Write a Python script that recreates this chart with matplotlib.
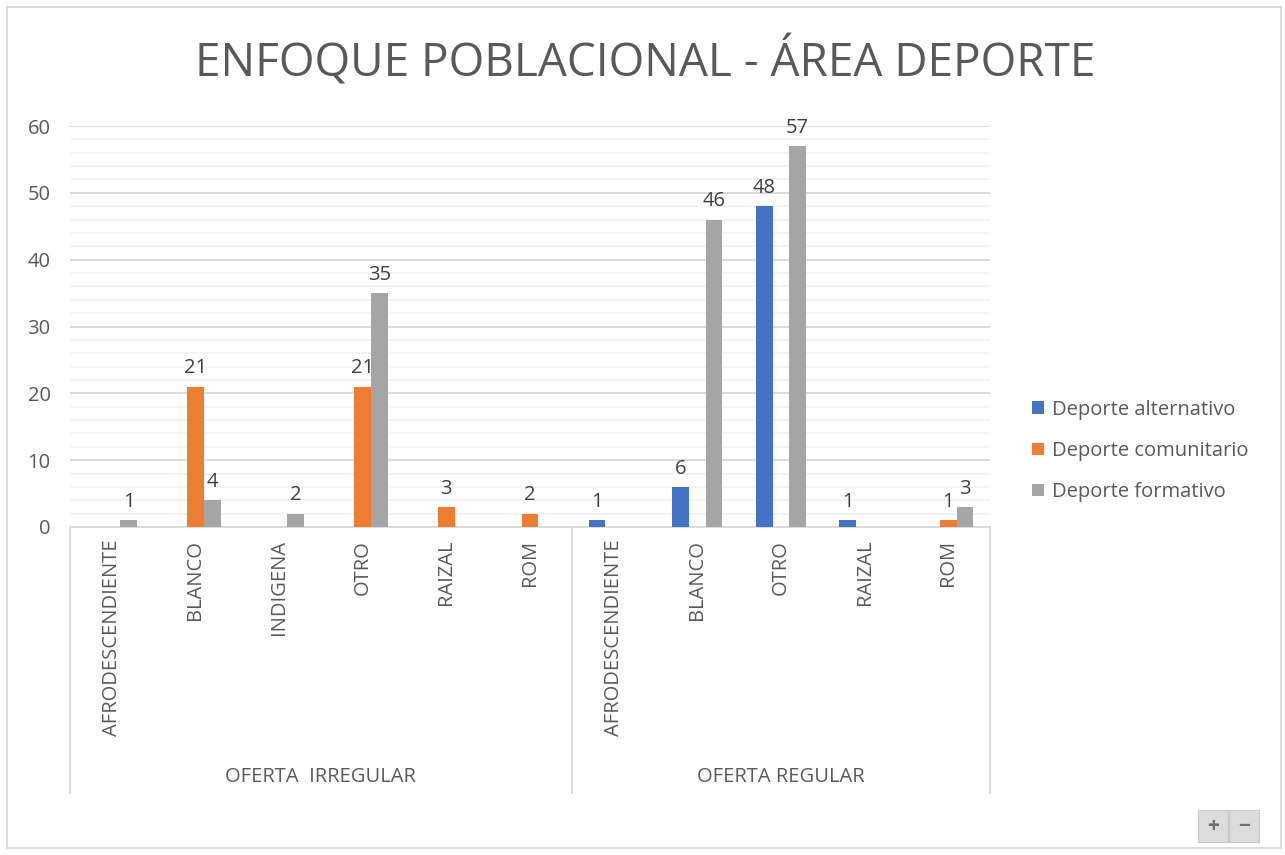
import numpy as np
import matplotlib.pyplot as plt
from matplotlib.patches import Rectangle

plt.rcParams['font.family'] = ['Open Sans', 'DejaVu Sans']

groups = ["OFERTA  IRREGULAR", "OFERTA REGULAR"]
categories = ["AFRODESCENDIENTE", "BLANCO", "INDIGENA", "OTRO", "RAIZAL", "ROM",
              "AFRODESCENDIENTE", "BLANCO", "OTRO", "RAIZAL", "ROM"]
group_sizes = [6, 5]
series = ["Deporte alternativo", "Deporte comunitario", "Deporte formativo"]
alternativo = [None, None, None, None, None, None, 1, 6, 48, 1, None]
comunitario = [None, 21, None, 21, 3, 2, None, None, None, None, 1]
formativo = [1, 4, 2, 35, None, None, None, 46, 57, None, 3]
colors = ["#4472C4", "#ED7D31", "#A5A5A5"]

fig = plt.figure(figsize=(12.85, 8.55), dpi=100)
ax = fig.add_axes([70/1285, 1-527/855, 920/1285, 401/855])

x = np.arange(len(categories)) + 0.5
w = 0.2
for k, (vals, col, name) in enumerate(zip([alternativo, comunitario, formativo], colors, series)):
    v = np.array([np.nan if a is None else a for a in vals], dtype=float)
    pos = x + (k - 1) * w
    ax.bar(pos, v, width=w, color=col, label=name, zorder=3)
    for px, val in zip(pos, v):
        if not np.isnan(val):
            ax.annotate(str(int(val)), (px, val), xytext=(0, 6), textcoords="offset points",
                        ha="center", va="bottom", fontsize=14.5, color="#404040")

ax.set_xlim(0, len(categories))
ax.set_ylim(0, 60)
ax.set_yticks(range(0, 61, 10))
ax.set_yticks(range(0, 61, 2), minor=True)
ax.grid(axis="y", which="major", color="#D9D9D9", lw=1.3, zorder=0)
ax.grid(axis="y", which="minor", color="#F2F2F2", lw=1.3, zorder=0)
ax.tick_params(axis="y", which="both", length=0, pad=14, labelsize=14.5, labelcolor="#595959")
ax.set_xticks([])
for s in ["left", "right", "top"]:
    ax.spines[s].set_visible(False)
ax.spines["bottom"].set_color("#D9D9D9")
ax.spines["bottom"].set_linewidth(1.3)

tr = ax.get_xaxis_transform()
for xi, name in zip(x, categories):
    ax.text(xi, -0.032, name, transform=tr, rotation=90, ha="center", va="top",
            fontsize=14.5, color="#595959")
start = 0
bounds = [0]
for g, n in zip(groups, group_sizes):
    ax.text(start + n / 2, -0.623, g, transform=tr, ha="center", va="center",
            fontsize=14.5, color="#595959")
    start += n
    bounds.append(start)
for b in bounds:
    ax.plot([b, b], [0, -0.663], transform=tr, color="#D9D9D9", lw=1.3, clip_on=False)

fig.text(0.502, 1-62/855, "ENFOQUE POBLACIONAL - ÁREA DEPORTE", ha="center", va="center",
         fontsize=33, color="#595959")

fig.legend(loc="center left", bbox_to_anchor=(1014/1285, 1-451/855), frameon=False,
           fontsize=14.5, labelcolor="#595959", handlelength=0.6, handleheight=0.6,
           handletextpad=0.4, labelspacing=1.05)

fig.patches.append(Rectangle((7/1285, 7/855), 1274/1285, 841/855, transform=fig.transFigure,
                             fill=False, edgecolor="#D9D9D9", lw=1.3))
for bx, sym in [(1198, "+"), (1229, "−")]:
    fig.patches.append(Rectangle((bx/1285, 1-842/855), 30/1285, 32/855, transform=fig.transFigure,
                                 facecolor="#DCDCDC", edgecolor="#C8C8C8", lw=0.8))
    fig.text((bx+15)/1285, 1-826/855, sym, ha="center", va="center", fontsize=15,
             color="#6E6E6E", fontweight="bold")

plt.savefig("out.png", dpi=100)
